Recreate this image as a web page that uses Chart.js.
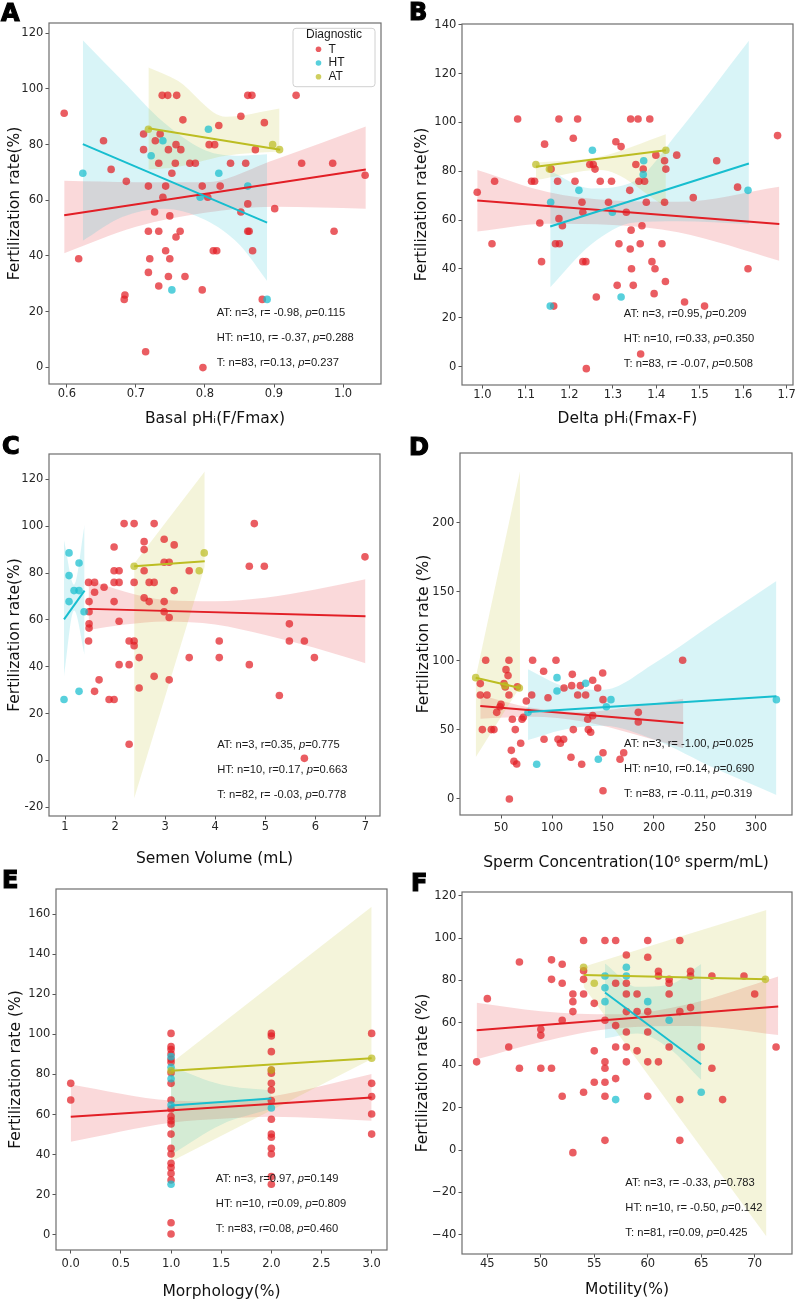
<!DOCTYPE html>
<html>
<head>
<meta charset="utf-8">
<title>Fertilization rate vs sperm parameters</title>
<script src="https://cdn.jsdelivr.net/npm/chart.js@4.4.1/dist/chart.umd.min.js"></script>
<style>
  html, body { margin: 0; padding: 0; background: #fff; }
  #fig { position: relative; width: 796px; height: 1301px; overflow: hidden; }
  #fig canvas { position: absolute; }
  .tag { position: absolute; font: bold 24px "DejaVu Sans", sans-serif; line-height: 1; color: #000; -webkit-text-stroke: 1.2px #000; }
</style>
</head>
<body>
<div id="fig"></div>
<script>
// ---- data ----
// groups
const groups = ['T', 'HT', 'AT'];
const legendTitle = 'Diagnostic';

// A: Basal pHi
const A_T = [[0.596,91.3],[0.617,39],[0.653,81.4],[0.664,71.1],[0.686,66.8],[0.684,26],[0.683,24.4],[0.711,83.8],[0.711,78.2],[0.714,5.6],[0.718,65.1],[0.718,48.9],[0.72,39],[0.718,34.1],[0.728,81.4],[0.733,73.3],[0.733,48.9],[0.733,29.2],[0.735,83.8],[0.727,55.8],[0.738,97.7],[0.739,61.1],[0.743,65.1],[0.743,41.9],[0.746,97.7],[0.747,78.2],[0.747,32.6],[0.749,54.4],[0.749,39],[0.752,69.7],[0.757,73.3],[0.758,80],[0.758,46.8],[0.759,97.7],[0.764,48.9],[0.765,78.2],[0.768,88.9],[0.771,32.6],[0.778,73.3],[0.786,73.3],[0.796,65.1],[0.796,27.8],[0.797,-0.1],[0.804,61.1],[0.806,80],[0.814,80],[0.812,41.9],[0.817,41.9],[0.82,86.9],[0.822,65.1],[0.837,73.3],[0.852,90.2],[0.852,55.8],[0.859,73.3],[0.862,97.7],[0.868,97.7],[0.862,58.7],[0.862,48.9],[0.864,48.9],[0.869,41.9],[0.873,78.2],[0.886,87.9],[0.883,24.4],[0.901,57],[0.932,97.7],[0.94,73.3],[0.985,73.3],[0.987,48.9],[1.032,69]];
const A_HT = [[0.623,69.7],[0.722,76],[0.739,81.4],[0.752,27.8],[0.793,61.1],[0.805,85.5],[0.82,69.7],[0.862,65.1],[0.89,24.4]];
const A_AT = [[0.718,85.5],[0.898,80],[0.908,78.2]];
const A_fitT = [[0.596,54.6],[1.033,71.1]];
const A_fitHT = [[0.623,80.2],[0.89,52]];
const A_fitAT = [[0.718,85.9],[0.909,78.2]];
// bands: [x, lower, upper]
const A_bandT = [[0.596,41,67],[0.70,50.5,66.5],[0.80,55.5,66.5],[0.90,57.7,74.5],[1.033,57,86.5]];
const A_bandHT = [[0.623,45.5,117.5],[0.68,54,103],[0.74,57,88],[0.80,53,78],[0.85,44,76],[0.89,31,76.5]];
const A_bandAT = [[0.718,71.1,107.7],[0.76,72,103],[0.83,76,90],[0.908,77.5,93]];
const A_xTicks = [0.6, 0.7, 0.8, 0.9, 1.0];
const A_yTicks = [0, 20, 40, 60, 80, 100, 120];
const A_stats = ['AT: n=3, r= -0.98, p=0.115', 'HT: n=10, r= -0.37, p=0.288', 'T: n=83, r=0.13, p=0.237'];

// B: Delta pHi
const B_T = [[0.988,71.4],[1.028,75.9],[1.022,50.3],[1.081,101.4],[1.113,75.9],[1.12,75.9],[1.132,58.8],[1.136,43],[1.143,91.1],[1.158,80.9],[1.164,24.8],[1.168,50.3],[1.177,50.3],[1.173,75.9],[1.176,101.4],[1.176,60.6],[1.184,57.7],[1.209,93.5],[1.213,75.9],[1.219,101.4],[1.229,67.3],[1.231,63.2],[1.231,43],[1.238,43],[1.239,-0.8],[1.247,82.8],[1.255,82.8],[1.259,80.9],[1.262,28.5],[1.271,75.9],[1.29,67.3],[1.297,75.9],[1.307,92.1],[1.314,50.3],[1.31,33.3],[1.319,90.1],[1.331,63.2],[1.339,72.2],[1.34,48.2],[1.341,101.4],[1.342,55.9],[1.343,40.1],[1.347,33.3],[1.353,82.8],[1.358,101.4],[1.36,75.9],[1.363,50.3],[1.364,5.2],[1.367,57.7],[1.37,80.9],[1.373,75.9],[1.377,67.3],[1.385,101.4],[1.39,43],[1.395,29.9],[1.397,40.1],[1.399,86.6],[1.413,50.3],[1.419,67.3],[1.419,84.3],[1.422,80.9],[1.421,34.9],[1.447,86.6],[1.465,26.5],[1.485,69.2],[1.511,24.8],[1.539,84.3],[1.587,73.5],[1.611,40.1],[1.679,94.6]];
const B_HT = [[1.157,67.3],[1.156,24.8],[1.222,72.2],[1.253,88.6],[1.299,63.2],[1.319,28.5],[1.371,84.3],[1.37,78.7],[1.611,72.2]];
const B_AT = [[1.123,82.8],[1.154,80.9],[1.422,88.6]];
const B_fitT = [[0.988,68],[1.683,58.4]];
const B_fitHT = [[1.156,57.4],[1.613,83.2]];
const B_fitAT = [[1.123,81.9],[1.422,88.6]];
const B_bandT = [[0.988,55.3,80.5],[1.15,58.5,71.5],[1.3,58,68],[1.45,55,67.5],[1.683,43.4,73.7]];
const B_bandHT = [[1.156,32.5,80],[1.25,50,73],[1.35,59,76],[1.45,59.5,96],[1.613,58.4,133.4]];
const B_bandAT = [[1.123,76.4,83.6],[1.27,80.5,86],[1.422,65.5,95.2]];
const B_xTicks = [1.0, 1.1, 1.2, 1.3, 1.4, 1.5, 1.6, 1.7];
const B_yTicks = [0, 20, 40, 60, 80, 100, 120, 140];
const B_stats = ['AT: n=3, r=0.95, p=0.209', 'HT: n=10, r=0.33, p=0.350', 'T: n=83, r= -0.07, p=0.508'];

// C: Semen volume
const C_T = [[1.47,76],[1.59,76],[1.59,71.8],[1.48,67.8],[1.48,63.5],[1.48,58.3],[1.48,56.5],[1.47,51],[1.59,29.5],[1.68,34.4],[1.78,73.9],[1.88,26],[1.98,26],[1.98,91.1],[1.98,81],[1.98,76],[1.98,67.8],[2.08,81],[2.08,76],[2.08,59.4],[2.08,40.9],[2.18,101.1],[2.28,51],[2.28,40.9],[2.28,6.9],[2.38,101.1],[2.38,76],[2.38,51],[2.38,49],[2.48,43.9],[2.48,30.9],[2.58,93.4],[2.58,90],[2.58,81],[2.58,69.4],[2.68,76],[2.68,67.8],[2.78,76],[2.78,101.1],[2.78,35.9],[2.98,94.4],[2.98,84.6],[2.98,67.8],[2.98,63.5],[3.08,84.6],[3.08,61],[3.08,34.4],[3.18,92],[3.18,72.5],[3.48,81],[3.48,43.9],[4.08,51],[4.08,43.9],[4.68,82.9],[4.68,40.9],[4.78,101.1],[4.98,82.9],[5.28,27.7],[5.48,58.3],[5.48,51],[5.78,51],[5.78,0.9],[5.98,43.9],[6.99,86.9]];
const C_HT = [[1.08,88.6],[1.08,78.9],[1.08,67.8],[1.18,72.5],[1.28,72.5],[1.28,84.3],[1.28,29.5],[1.38,63.5],[0.98,26]];
const C_AT = [[2.38,82.9],[3.68,81],[3.78,88.6]];
const C_fitT = [[1.47,64.7],[7.0,61.5]];
const C_fitHT = [[0.98,60.2],[1.39,72.5]];
const C_fitAT = [[2.38,82.9],[3.79,85]];
const C_bandT = [[1.47,55.7,77],[2.2,58,72],[3.0,59.3,68.5],[4.0,58,68],[5.0,53.5,69.5],[6.0,48,73],[7.0,41.5,77.3]];
const C_bandHT = [[0.98,35.8,94],[1.18,64,75],[1.39,45,100.5]];
const C_bandAT = [[2.38,-16.2,84],[3.79,82.7,123.3]];
const C_xTicks = [1, 2, 3, 4, 5, 6, 7];
const C_yTicks = [-20, 0, 20, 40, 60, 80, 100, 120];
const C_stats = ['AT: n=3, r=0.35, p=0.775', 'HT: n=10, r=0.17, p=0.663', 'T: n=82, r= -0.03, p=0.778'];

// D: Sperm concentration
const D_T = [[29.7,83.5],[29.7,75.3],[31.7,50.2],[35,100.4],[36.3,75.3],[40.5,50.2],[43.1,50.2],[45.8,62.7],[49,66.8],[50,68.5],[52.9,83.5],[54.2,81.1],[54.9,93.6],[56.9,89.3],[57.8,100.4],[57.8,75.3],[58.2,0],[60.1,35.2],[61.1,57.7],[62.7,27.3],[64,50.2],[65.4,25.3],[66,81.1],[69.3,40.3],[70.6,57.7],[71.9,59.1],[74.8,70.9],[80.1,75.3],[81,100.4],[91.8,92.4],[92.2,43.2],[96.1,73.3],[103.9,100.4],[105.9,43.2],[108.2,40.3],[111.4,43.2],[111.8,80.3],[118.6,30.2],[119.3,82],[119.9,90.2],[120.9,50.2],[125.2,75.3],[127.8,82],[129.1,25.1],[133,75.3],[135,57.7],[135.6,50.2],[137.9,48.3],[139.9,60.3],[139.9,85.9],[144.8,80.3],[149.7,91.2],[150,71.9],[150,33.5],[150,6],[166.7,28.7],[170.3,33.5],[184.6,62.7],[184.6,55.7],[228.1,100.4]];
const D_HT = [[76.5,62.7],[85,25.1],[104.9,87.8],[104.9,78.2],[133,83.7],[145.4,28.7],[153.3,66.8],[157.8,71.9],[320,71.9]];
const D_AT = [[25.2,87.8],[53.9,82],[68,80.3]];
const D_fitT = [[29.7,67.3],[228.8,55]];
const D_fitHT = [[76.5,63],[320,74.3]];
const D_fitAT = [[25.2,87.8],[68.6,80.3]];
const D_bandT = [[29.7,58.1,75],[80,59.5,66],[130,56,63],[180,47,67],[228.8,36.7,72.6]];
const D_bandHT = [[76.5,42.7,93.8],[110,50,82],[150,53,79],[200,43,98],[260,22,128],[320,2.9,157.8]];
const D_bandAT = [[25.2,30.2,88],[68.6,81,237]];
const D_xTicks = [50, 100, 150, 200, 250, 300];
const D_yTicks = [0, 50, 100, 150, 200];
const D_stats = ['AT: n=3, r= -1.00, p=0.025', 'HT: n=10, r=0.14, p=0.690', 'T: n=83, r= -0.11, p=0.319'];

// E: Morphology
const E_T = [[0,75.6],[0,67.3],[1,100.5],[1,93.9],[1,92.5],[1,90.2],[1,87.6],[1,86.1],[1,80.9],[1,75.6],[1,67.3],[1,62.8],[1,59],[1,57],[1,55.3],[1,50.3],[1,43.2],[1,40.4],[1,35.7],[1,33.6],[1,30.7],[1,27.4],[1,6.1],[1,0.5],[2,100.5],[2,99.2],[2,91.4],[2,82.2],[2,80.6],[2,75.6],[2,72.3],[2,67],[2,57.7],[2,50.3],[2,48.7],[2,43.2],[2,40.4],[2,29.1],[2,25.3],[3,100.5],[3,75.6],[3,69],[3,60.3],[3,50.3]];
const E_HT = [[1,88.9],[1,83.6],[1,77.9],[1,64.8],[1,25.3],[2,63.3]];
const E_AT = [[1,81.9],[2,82.2],[3,88.1]];
const E_fitT = [[0,59],[3,68.5]];
const E_fitHT = [[1,64.6],[2,68.1]];
const E_fitAT = [[1,81.9],[3,88.1]];
const E_bandT = [[0,46.5,75],[1,56,67],[1.5,58,66.5],[2,59,69],[3,57,80.2]];
const E_bandHT = [[1,40,84],[1.5,55,75],[2,63,72]];
const E_bandAT = [[1,36.6,85.6],[3,87.7,163.7]];
const E_xTicks = [0, 0.5, 1, 1.5, 2, 2.5, 3];
const E_yTicks = [0, 20, 40, 60, 80, 100, 120, 140, 160];
const E_stats = ['AT: n=3, r=0.97, p=0.149', 'HT: n=10, r=0.09, p=0.809', 'T: n=83, r=0.08, p=0.460'];

// F: Motility
const F_T = [[44,41.6],[45,71.4],[47,48.6],[48,88.7],[48,38.6],[50,57],[50,54.1],[50,38.6],[51,89.7],[51,80.5],[51,38.6],[52,87.6],[52,78.7],[52,61.2],[52,25.4],[53,73.6],[53,70],[53,65.3],[53,-1.2],[54,98.8],[54,84.6],[54,80.5],[54,73.6],[54,27.3],[55,69.2],[55,46.8],[55,32],[56,98.8],[56,61.2],[56,41.6],[56,38.6],[56,32],[56,25.4],[56,4.6],[57,98.8],[57,78.7],[57,58.7],[57,48.6],[57,33.7],[58,92],[58,78.7],[58,73.6],[58,65.3],[58,55.7],[58,48.6],[58,41.6],[59,73.6],[59,65.3],[59,46.8],[60,98.8],[60,90.9],[60,65.3],[60,55.7],[60,41.6],[60,25.4],[61,84.3],[61,82.1],[61,41.6],[62,80.5],[62,78.7],[62,73.6],[62,48.6],[63,98.8],[63,65.3],[63,23.8],[63,4.6],[64,84.3],[64,82.1],[64,67.2],[65,48.6],[66,82.1],[66,38.6],[67,23.8],[69,82.1],[70,73.6],[72,48.6]];
const F_HT = [[56,76.5],[56,82.1],[56,70],[57,23.8],[58,86.2],[58,82.1],[60,70],[62,61.2],[65,27.3]];
const F_AT = [[54,86.2],[55,78.7],[71,80.5]];
const F_fitT = [[44,56.5],[72.2,67.7]];
const F_fitHT = [[56,74.3],[65,40.5]];
const F_fitAT = [[54,82.6],[71.1,80.5]];
const F_bandT = [[44,42.8,69.5],[50,51,65.5],[57,57.5,64],[64,58.5,69],[72.2,54.3,81.8]];
const F_bandHT = [[56,52.7,88],[59,55,77],[62,48,78],[65,33,87.8]];
const F_bandAT = [[54,77,86.5],[71.1,-40.8,113.2]];
const F_xTicks = [45, 50, 55, 60, 65, 70];
const F_yTicks = [-40, -20, 0, 20, 40, 60, 80, 100, 120];
const F_stats = ['AT: n=3, r= -0.33, p=0.783', 'HT: n=10, r= -0.50, p=0.142', 'T: n=81, r=0.09, p=0.425'];

// ---- styling ----
const colors = { T: '#e21f26', HT: '#17becf', AT: '#bcbd22' };
const rgb = { T: '226,31,38', HT: '23,190,207', AT: '188,189,34' };
const one = v => v.toFixed(1);
const int = v => String(v);
const minus = v => (v < 0 ? '\u2212' + Math.abs(v) : String(v));

// page geometry of each panel: canvas box, plot area, title positions
const panels = [
  { tag: 'A', tagPos: [1, 0.5], T: A_T, HT: A_HT, AT: A_AT, fit: [A_fitT, A_fitHT, A_fitAT], band: [A_bandT, A_bandHT, A_bandAT],
    xTicks: A_xTicks, yTicks: A_yTicks, fx: one, fy: int, xr: [0.574, 1.055], yr: [-6, 123.7],
    xTitle: 'Basal pH\u1D62(F/Fmax)', yTitle: 'Fertilization rate(%)', stats: A_stats, statX: 0.505, legend: true,
    cv: [0, 0, 398, 432], area: [49, 23, 381, 384], yTitleX: 15, xTitleY: 419, xTickPad: 0 },
  { tag: 'B', tagPos: [409, 0], T: B_T, HT: B_HT, AT: B_AT, fit: [B_fitT, B_fitHT, B_fitAT], band: [B_bandT, B_bandHT, B_bandAT],
    xTicks: B_xTicks, yTicks: B_yTicks, fx: one, fy: int, xr: [0.953, 1.7145], yr: [-7.5, 140.3],
    xTitle: 'Delta pH\u1D62(Fmax-F)', yTitle: 'Fertilization rate(%)', stats: B_stats, statX: 0.489, legend: false,
    cv: [398, 0, 402, 432], area: [462, 24, 793, 385], yTitleX: 421.7, xTitleY: 419, xTickPad: 0 },
  { tag: 'C', tagPos: [2, 434], T: C_T, HT: C_HT, AT: C_AT, fit: [C_fitT, C_fitHT, C_fitAT], band: [C_bandT, C_bandHT, C_bandAT],
    xTicks: C_xTicks, yTicks: C_yTicks, fx: int, fy: int, xr: [0.68, 7.29], yr: [-23.7, 130.8],
    xTitle: 'Semen Volume (mL)', yTitle: 'Fertilization rate(%)', stats: C_stats, statX: 0.508, legend: false,
    cv: [0, 436, 398, 434], area: [49, 454, 380, 816], yTitleX: 14.5, xTitleY: 859, xTickPad: 0.5 },
  { tag: 'D', tagPos: [409, 435], T: D_T, HT: D_HT, AT: D_AT, fit: [D_fitT, D_fitHT, D_fitAT], band: [D_bandT, D_bandHT, D_bandAT],
    xTicks: D_xTicks, yTicks: D_yTicks, fx: int, fy: int, xr: [9.8, 335.3], yr: [-11.6, 250.4],
    xTitle: 'Sperm Concentration(10\u2076 sperm/mL)', yTitle: 'Fertilization rate (%)', stats: D_stats, statX: 0.494, legend: false,
    cv: [398, 436, 402, 440], area: [460, 453, 792, 815], yTitleX: 424, xTitleY: 862.5, xTickPad: 3 },
  { tag: 'E', tagPos: [2, 868], T: E_T, HT: E_HT, AT: E_AT, fit: [E_fitT, E_fitHT, E_fitAT], band: [E_bandT, E_bandHT, E_bandAT],
    xTicks: E_xTicks, yTicks: E_yTicks, fx: one, fy: int, xr: [-0.147, 3.153], yr: [-7.5, 172.5],
    xTitle: 'Morphology(%)', yTitle: 'Fertilization rate (%)', stats: E_stats, statX: 0.483, legend: false,
    cv: [0, 868, 398, 437], area: [56, 889, 387, 1250], yTitleX: 16.3, xTitleY: 1291.7, xTickPad: 3.8 },
  { tag: 'F', tagPos: [411, 871], T: F_T, HT: F_HT, AT: F_AT, fit: [F_fitT, F_fitHT, F_fitAT], band: [F_bandT, F_bandHT, F_bandAT],
    xTicks: F_xTicks, yTicks: F_yTicks, fx: int, fy: minus, xr: [42.63, 73.49], yr: [-49, 121.7],
    xTitle: 'Motility(%)', yTitle: 'Fertilization rate (%)', stats: F_stats, statX: 0.495, legend: false,
    cv: [398, 868, 402, 437], area: [462, 892, 792, 1254], yTitleX: 422.7, xTitleY: 1290, xTickPad: 0 }
];

const tickFont = { family: 'DejaVu Sans', size: 11.5 };
const titleFont = { family: 'DejaVu Sans', size: 15.5 };
const titleHalf = 15.5 * 1.2 / 2;

// frame, stats lines and legend
const decor = {
  id: 'decor',
  afterDraw(chart, args, o) {
    const { ctx, chartArea: a } = chart;
    ctx.save();
    ctx.strokeStyle = '#6e6e6e';
    ctx.lineWidth = 1.2;
    ctx.strokeRect(a.left, a.top, a.right - a.left, a.bottom - a.top);

    ctx.fillStyle = '#1a1a1a';
    ctx.textBaseline = 'middle';
    ctx.textAlign = 'left';
    const x0 = a.left + o.statX * (a.right - a.left);
    o.stats.forEach((s, i) => {
      const y = a.bottom - [71, 46, 21][i];
      const k = s.indexOf('p=');
      const parts = [[s.slice(0, k), 'normal'], ['p', 'italic'], [s.slice(k + 1), 'normal']];
      let x = x0;
      parts.forEach(([t, st]) => {
        ctx.font = st + ' 11.2px "Liberation Sans"';
        ctx.fillText(t, x, y);
        x += ctx.measureText(t).width;
      });
    });

    if (o.legend) {
      const bx = a.right - 88, by = a.top + 5.3, bw = 82, bh = 58.4;
      ctx.fillStyle = 'rgba(255,255,255,0.8)';
      ctx.strokeStyle = '#d0d0d0';
      ctx.lineWidth = 1;
      ctx.beginPath();
      ctx.roundRect(bx, by, bw, bh, 3);
      ctx.fill();
      ctx.stroke();
      ctx.font = '12px "Liberation Sans"';
      ctx.fillStyle = '#1a1a1a';
      ctx.textAlign = 'center';
      ctx.fillText(legendTitle, bx + bw / 2, a.top + 12);
      ctx.textAlign = 'left';
      groups.forEach((g, i) => {
        const y = a.top + 26.3 + i * 13.7;
        ctx.fillStyle = 'rgba(' + rgb[g] + ',0.72)';
        ctx.beginPath();
        ctx.arc(bx + 25.5, y, 2.8, 0, Math.PI * 2);
        ctx.fill();
        ctx.fillStyle = '#1a1a1a';
        ctx.fillText(g, bx + 35.5, y);
      });
    }
    ctx.restore();
  }
};

const pt = arr => arr.map(([x, y]) => ({ x, y }));

function buildDatasets(p) {
  const sets = [];
  // top-most first: AT, HT, T
  ['AT', 'HT', 'T'].forEach(g => {
    const gi = groups.indexOf(g);
    sets.push({ type: 'line', data: pt(p.fit[gi]), borderColor: colors[g], borderWidth: 2,
      pointRadius: 0, fill: false, order: 0 });
    sets.push({ type: 'scatter', data: pt(p[g]), backgroundColor: 'rgba(' + rgb[g] + ',0.72)',
      borderColor: 'rgba(0,0,0,0)', borderWidth: 0, pointRadius: 3.8, order: 1 });
  });
  ['AT', 'HT', 'T'].forEach(g => {
    const gi = groups.indexOf(g);
    const b = p.band[gi];
    sets.push({ type: 'line', data: b.map(([x, lo, hi]) => ({ x, y: hi })), borderColor: 'rgba(0,0,0,0)',
      borderWidth: 0, pointRadius: 0, cubicInterpolationMode: 'monotone',
      fill: '+1', backgroundColor: 'rgba(' + rgb[g] + ',0.17)', order: 2 });
    sets.push({ type: 'line', data: b.map(([x, lo]) => ({ x, y: lo })), borderColor: 'rgba(0,0,0,0)',
      borderWidth: 0, pointRadius: 0, cubicInterpolationMode: 'monotone', fill: false, order: 2 });
  });
  return sets;
}

const fig = document.getElementById('fig');

panels.forEach(p => {
  const [cx, cy, cw, ch] = p.cv;
  const [l, t, r, b] = p.area;

  const tag = document.createElement('div');
  tag.className = 'tag';
  tag.textContent = p.tag;
  tag.style.left = p.tagPos[0] + 'px';
  tag.style.top = p.tagPos[1] + 'px';

  const canvas = document.createElement('canvas');
  canvas.width = cw;
  canvas.height = ch;
  canvas.style.left = cx + 'px';
  canvas.style.top = cy + 'px';
  fig.appendChild(canvas);
  fig.appendChild(tag);

  new Chart(canvas.getContext('2d'), {
    type: 'scatter',
    data: { datasets: buildDatasets(p) },
    options: {
      responsive: false,
      animation: false,
      devicePixelRatio: 1,
      events: [],
      layout: { padding: { left: 0, top: t - cy, right: cx + cw - r, bottom: 0 } },
      plugins: {
        legend: { display: false },
        tooltip: { enabled: false },
        decor: { stats: p.stats, statX: p.statX, legend: p.legend }
      },
      scales: {
        x: {
          type: 'linear', min: p.xr[0], max: p.xr[1],
          afterBuildTicks: s => { s.ticks = p.xTicks.map(v => ({ value: v })); },
          afterFit: s => { s.height = cy + ch - b; },
          border: { display: false },
          grid: { drawOnChartArea: false, drawTicks: true, tickLength: 3.5, tickColor: '#555', tickWidth: 1 },
          ticks: { autoSkip: false, maxRotation: 0, padding: p.xTickPad, color: '#262626', font: tickFont,
            callback: v => p.fx(v) },
          title: { display: true, text: p.xTitle, color: '#111', font: titleFont,
            padding: { top: 0, bottom: Math.max(0, cy + ch - p.xTitleY - titleHalf) } }
        },
        y: {
          type: 'linear', min: p.yr[0], max: p.yr[1],
          afterBuildTicks: s => { s.ticks = p.yTicks.map(v => ({ value: v })); },
          afterFit: s => { s.width = l - cx; },
          border: { display: false },
          grid: { drawOnChartArea: false, drawTicks: true, tickLength: 3.5, tickColor: '#555', tickWidth: 1 },
          ticks: { autoSkip: false, padding: 2.2, color: '#262626', font: tickFont,
            callback: v => p.fy(v) },
          title: { display: true, text: p.yTitle, color: '#111', font: titleFont,
            padding: { top: Math.max(0, p.yTitleX - cx - titleHalf), bottom: 0 } }
        }
      }
    },
    plugins: [decor]
  });
});
</script>
</body>
</html>
